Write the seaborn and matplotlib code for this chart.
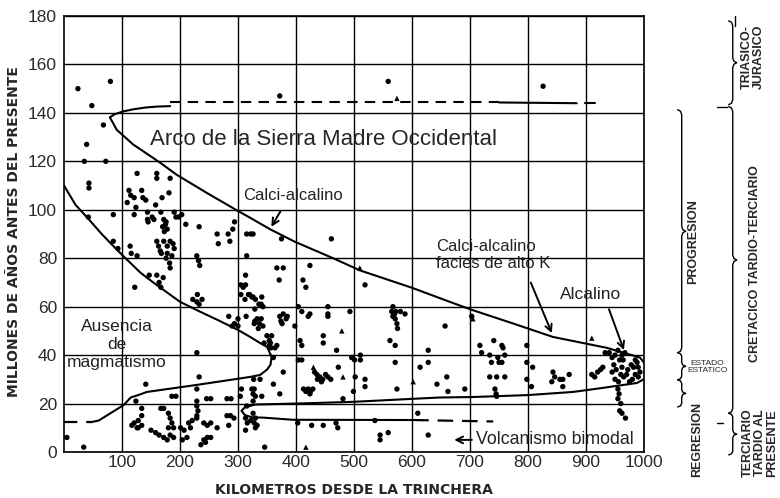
import numpy as np
import pandas as pd
import matplotlib
matplotlib.use("Agg")
import matplotlib.pyplot as plt
import seaborn as sns

# muestras (km desde la trinchera, Ma)
circ_x = [24, 80, 48, 68, 39, 35, 72, 43, 43, 42, 85, 372, 559, 826,
          126, 160, 160, 183, 112, 115, 121, 134, 136, 141, 109, 124, 158, 169, 181,
          121, 144, 144, 145, 152, 155, 167, 172, 175, 178, 173, 170, 176,
          190, 193, 198, 203, 160, 163, 166, 172, 178, 183, 188, 168, 178, 186, 190, 176, 182, 183,
          114, 116, 126, 147, 160, 171, 122, 164, 167, 85, 93,
          210, 233, 229, 232, 234, 264, 283, 266, 286, 294, 291, 315, 322, 315, 313, 305, 313,
          309, 318, 326, 326, 375, 461, 367, 378, 371, 424, 412, 417, 519,
          222, 230, 238, 229, 233, 305, 312, 320, 330, 341, 336, 324, 343, 329, 340,
          284, 290, 300, 300, 294, 328, 335, 314, 329,
          404, 410, 424, 455, 455, 493, 567, 572, 588, 229, 233, 229, 141,
          333, 337, 340, 343, 372, 374, 378, 383, 385, 376, 421, 455,
          350, 354, 358, 354, 357, 364, 367, 356, 345, 407, 410, 398, 447, 447, 470,
          361, 404, 410, 327, 338, 324, 326, 341, 361, 378, 372,
          432, 436, 441, 446, 437, 444, 451, 455, 460,
          413, 417, 421, 425, 429, 424, 473, 502, 519, 519, 499, 481,
          496, 501, 511, 511, 565, 567, 571, 574, 575, 570, 580,
          562, 571, 571, 574, 614, 628, 628, 657, 643, 662,
          186, 193, 246, 253, 229, 229, 231, 229, 281, 288, 306, 304, 315, 328, 330, 326,
          124, 134, 134, 128, 121, 117, 126, 134, 128, 150, 158, 164,
          167, 172, 180, 183, 186, 180, 189, 183, 189, 178, 172,
          201, 207, 215, 221, 218, 212, 204, 229, 241, 247, 253, 247, 241, 236, 244, 253,
          264, 281, 287, 293, 284, 313, 316, 313, 322, 5, 34,
          403, 427, 447, 469, 472, 326, 330, 328, 333, 330,
          536, 545, 545, 559, 610, 628, 346,
          703, 741, 755, 720, 748, 750, 755, 798, 798, 808, 798, 806,
          734, 746, 760, 743, 745, 746, 660, 691, 717, 734, 737, 757, 760,
          843, 846, 841, 855, 860, 871, 860, 933, 910, 915, 920, 925, 929,
          940, 945, 950, 955, 958, 948, 952, 962, 960, 945, 950, 956, 965, 970, 972,
          978, 982, 985, 988, 990, 993, 990, 985, 980, 975, 962, 967, 964,
          955, 957, 955, 960, 958, 962, 968]
circ_y = [150, 153, 143, 135, 127, 120, 120, 111, 109, 97, 98, 147, 153, 151,
          115, 115, 113, 113, 108, 106, 105, 108, 105, 104, 103, 101, 102, 105, 107,
          98, 99, 96, 95, 97, 96, 99, 96, 94, 92, 91, 93, 95,
          99, 97, 97, 98, 87, 85, 83, 87, 85, 87, 86, 82, 82, 81, 84, 80, 78, 76,
          85, 82, 81, 73, 73, 72, 68, 70, 68, 87, 84,
          94, 93, 81, 79, 77, 90, 90, 86, 87, 95, 92, 90, 90, 81, 73, 69, 69,
          68, 65, 64, 90, 88, 88, 76, 76, 71, 77, 71, 68, 69,
          63, 65, 63, 62, 61, 65, 63, 65, 63, 64, 61, 64, 60, 59, 61,
          56, 52, 55, 52, 53, 53, 51, 56, 54,
          60, 58, 57, 60, 57, 58, 60, 58, 57, 41, 31, 26, 28,
          55, 53, 55, 52, 56, 54, 57, 55, 56, 53, 56, 56,
          48, 46, 48, 44, 43, 43, 44, 45, 45, 46, 44, 52, 48, 45, 42,
          39, 38, 38, 30, 30, 26, 24, 23, 28, 33, 24,
          33, 32, 31, 30, 30, 29, 32, 31, 30,
          26, 25, 26, 25, 26, 24, 35, 31, 30, 27, 25, 22,
          39, 38, 40, 38, 58, 56, 55, 53, 51, 57, 58,
          46, 44, 37, 26, 35, 42, 37, 52, 28, 25,
          23, 23, 22, 22, 21, 19, 17, 15, 22, 22, 26, 23, 19, 26, 23, 21,
          21, 18, 15, 13, 12, 11, 10, 11, 10, 9, 8, 7,
          18, 18, 16, 14, 12, 10, 10, 7, 6, 5, 6,
          10, 9, 12, 13, 10, 6, 5, 14, 12, 11, 12, 6, 5, 3, 4, 6,
          10, 15, 15, 14, 11, 14, 12, 9, 13, 6, 2,
          12, 11, 11, 12, 10, 16, 14, 12, 11, 10,
          13, 7, 5, 8, 16, 7, 2,
          56, 46, 44, 41, 39, 37, 37, 44, 37, 35, 30, 27,
          31, 31, 31, 26, 24, 23, 31, 26, 44, 40, 37, 43, 40,
          33, 31, 29, 30, 30, 32, 27, 41, 32, 31, 33, 34, 35,
          41, 39, 40, 42, 38, 36, 34, 35, 32, 33, 30, 29, 31, 32, 34,
          36, 35, 38, 37, 35, 33, 31, 32, 30, 29, 40, 41, 38,
          26, 24, 22, 20, 17, 16, 14]
tri_x = [479, 430, 481, 602, 417, 510, 574, 910, 705]
tri_y = [50, 35, 31, 29, 2, 76, 146, 47, 55]

# envolvente del arco
arco_x = [183, 160, 140, 120, 102, 88, 79, 91, 119, 166, 194, 246, 300, 321, 355, 398, 464, 510,
          600, 665, 703, 775, 843, 936, 993, 1003, 1006, 1003, 988, 930, 878, 800, 705, 648,
          597, 498, 400, 330, 312, 306, 312, 325, 343, 395, 602]
arco_y = [142.8, 142.6, 142.2, 141.5, 140.6, 139.5, 138.2, 133, 127, 119.4, 114.5, 107, 99.5, 96.7,
          92, 86.8, 80, 75, 67.8, 62, 58.7, 53, 47.5, 43, 39, 36, 33, 30.5, 28.5, 26.5, 24.8,
          23.5, 22.7, 22.5, 21.9, 20.7, 20, 19.6, 18.5, 17, 15.2, 14.3, 14.2, 13.3, 13.2]
arco_dash_x = [183, 750]
arco_dash_y = [144.5, 144.5]
arco_solid_x = [750, 884]
arco_solid_y = [144.3, 144.0]
arco_end_x = [898, 915]
arco_end_y = [144.0, 144.0]
bimodal_x = [602, 740]
bimodal_y = [13.2, 12.6]

# limite de ausencia de magmatismo
aus_x = [0, 20, 43, 65, 86, 100, 132, 155, 200, 234, 265, 300, 321, 338, 350, 358, 356, 350,
         338, 321, 229, 143, 128, 115, 103, 80, 60, 46]
aus_y = [110, 102, 96, 90, 84.8, 81.4, 74, 69.8, 62, 58, 54.5, 50.4, 47.5, 45, 43.4, 39.3, 36, 34,
         31.8, 31, 27.7, 24.8, 23.5, 22.5, 19.4, 16, 13, 12.3]
aus_dash_x = [0, 46]
aus_dash_y = [12.3, 12.3]

FONT = ["Liberation Sans", "DejaVu Sans"]
sns.set_theme(style="white")
plt.rcParams["font.family"] = FONT

fig = plt.figure(figsize=(7.8, 4.98), dpi=100)
ax = fig.add_axes([64 / 780, 46 / 498, 580 / 780, 436 / 498])

df = pd.DataFrame({"km": circ_x + tri_x, "ma": circ_y + tri_y,
                   "tipo": ["c"] * len(circ_x) + ["t"] * len(tri_x)})
sns.scatterplot(data=df, x="km", y="ma", style="tipo", markers={"c": "o", "t": "^"},
                color="black", s=15, linewidth=0, legend=False, ax=ax, zorder=3)

ax.set_xlim(0, 1000)
ax.set_ylim(0, 180)
ax.set_xticks(np.arange(100, 1001, 100))
ax.set_yticks(np.arange(0, 181, 20))
ax.grid(True, color="black", lw=1.0)
ax.set_axisbelow(True)
for s in ax.spines.values():
    s.set_color("black")
    s.set_linewidth(1.2)
ax.tick_params(length=0, labelsize=12.5, labelcolor="#2a2a2a")
ax.tick_params(axis="x", pad=2)
ax.tick_params(axis="y", pad=5)

ax.set_xlabel("KILOMETROS DESDE LA TRINCHERA", fontsize=10, fontweight="bold",
              family="DejaVu Sans")
ax.set_ylabel("MILLONES DE AÑOS ANTES DEL PRESENTE", fontsize=10, fontweight="bold",
              family="DejaVu Sans")
ax.xaxis.set_label_coords(0.5, -0.071)
ax.yaxis.set_label_coords(-0.074, 0.505)

# curvas
ax.plot(arco_x, arco_y, color="black", lw=1.5)
ax.plot(arco_dash_x, arco_dash_y, color="black", lw=1.5, ls=(0, (5, 3.5)))
ax.plot(arco_solid_x, arco_solid_y, color="black", lw=1.5)
ax.plot(arco_end_x, arco_end_y, color="black", lw=1.5)
ax.plot(bimodal_x, bimodal_y, color="black", lw=1.6, ls=(0, (7, 4)))
ax.plot(aus_x, aus_y, color="black", lw=1.5)
ax.plot(aus_dash_x, aus_dash_y, color="black", lw=1.6, ls=(0, (6, 4)))

# textos
ax.text(148, 129, "Arco de la Sierra Madre Occidental", fontsize=16, va="center", ha="left")
ax.text(394, 106, "Calci-alcalino", fontsize=12, ha="center", va="center", color="#222222")
ax.text(641, 81.4, "Calci-alcalino\nfacies de alto K", fontsize=12, ha="left", va="center",
        color="#222222", linespacing=1.15)
ax.text(855, 65, "Alcalino", fontsize=12.5, ha="left", va="center", color="#222222")
ax.text(710, 5, "Volcanismo bimodal", fontsize=12.8, ha="left", va="center", color="#222222")
ax.text(91, 44.3, "Ausencia\nde\nmagmatismo", fontsize=12.5, ha="center", va="center",
        color="#222222", linespacing=1.25)

arr = dict(arrowstyle="->", color="black", lw=1.4, mutation_scale=12)
ax.annotate("", xy=(355, 92), xytext=(376, 100.5), arrowprops=arr)
ax.annotate("", xy=(843, 48), xytext=(803, 71), arrowprops=arr)
ax.annotate("", xy=(967, 41), xytext=(938, 60), arrowprops=arr)
ax.annotate("", xy=(668, 5), xytext=(708, 5), arrowprops=arr)


# llaves a la derecha
def llave(x0, y1, y2, w=7, d=2.0):
    ym = (y1 + y2) / 2
    xs = [x0 - w, x0 - w * 0.3, x0, x0, x0 + w * 0.3, x0 + w, x0 + w * 0.3, x0, x0,
          x0 - w * 0.3, x0 - w]
    ys = [y1, y1 - d * 0.3, y1 - d, ym + d, ym + d * 0.3, ym, ym - d * 0.3, ym - d, y2 + d,
          y2 + d * 0.3, y2]
    ax.plot(xs, ys, color="black", lw=1.0, clip_on=False)


llave(1065, 141.3, 41)
llave(1065, 41, 29.8, d=1.5)
llave(1065, 29.8, 18.6, d=1.5)
llave(1153, 178, 143.4)
llave(1153, 142.6, 16)
llave(1153, 16, -1.2, d=1.5)
ax.plot([1126, 1143], [142.6, 142.6], color="black", lw=1.0, clip_on=False)
ax.plot([1126, 1136], [12, 12], color="black", lw=1.0, clip_on=False)
ax.plot([1157, 1157], [180, 176], color="black", lw=1.0, clip_on=False)

bold = dict(fontsize=9, fontweight="bold", rotation=90, ha="center", va="center",
            clip_on=False)
ax.text(1084, 87, "PROGRESION", **bold)
ax.text(1091, 5, "REGRESION", **bold)
ax.text(1191, 78, "CRETACICO TARDIO-TERCIARIO", **bold)
ax.text(1188, 163, "TRIASICO-\nJURASICO", linespacing=1.0, **bold)
ax.text(1200, 3.7, "TERCIARIO\nTARDIO AL\nPRESENTE", linespacing=1.0, **bold)
ax.text(1109, 35, "ESTADO\nESTATICO", fontsize=6, ha="center", va="center",
        linespacing=1.0, clip_on=False)

fig.savefig("out.png", dpi=100)
